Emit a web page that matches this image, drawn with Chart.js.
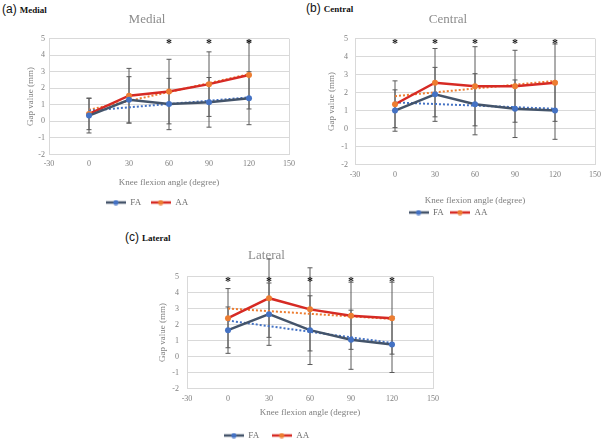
<!DOCTYPE html>
<html>
<head>
<meta charset="utf-8">
<script src="https://cdn.jsdelivr.net/npm/chart.js@4.4.1/dist/chart.umd.min.js"></script>
<style>
  body { margin: 0; background: #fff; width: 607px; height: 440px; position: relative; overflow: hidden; }
  .panel { position: absolute; }
  .tag { position: absolute; font-family: "Liberation Sans", Arial, sans-serif; font-size: 12px; color: #111; white-space: nowrap; }
  .tag b { font-family: "Liberation Serif", serif; font-size: 9px; margin-left: 3px; }
</style>
</head>
<body>
<div class="tag" style="left:2px;top:2px">(a)<b>Medial</b></div>
<div class="tag" style="left:306px;top:1px">(b)<b>Central</b></div>
<div class="tag" style="left:125px;top:230px">(c)<b>Lateral</b></div>

<div class="panel" style="left:0;top:0;width:300px;height:217px"><canvas id="medialChart"></canvas></div>
<div class="panel" style="left:300px;top:0;width:307px;height:227px"><canvas id="centralChart"></canvas></div>
<div class="panel" style="left:100px;top:222px;width:360px;height:228px"><canvas id="lateralChart"></canvas></div>

<script>
// Gap value vs knee flexion angle, FA vs AA

const angles = [0, 30, 60, 90, 120];
const trendAngles = [0, 120];
const starY = 4.85;

// Medial
const medialFA = [0.35, 1.3, 1.05, 1.15, 1.4];
const medialAA = [0.45, 1.55, 1.8, 2.25, 2.8];
const medialFASD = [1.05, 1.4, 1.55, 1.5, 1.6];
const medialAASD = [0.95, 1.65, 1.95, 1.95, 2.05];
const medialFATrend = [0.65, 1.45];
const medialAATrend = [0.7, 2.85];
const medialStars = [60, 90, 120];

// Central
const centralFA = [1.0, 1.9, 1.35, 1.1, 1.0];
const centralAA = [1.35, 2.55, 2.35, 2.35, 2.55];
const centralFASD = [1.15, 1.5, 1.7, 1.6, 1.6];
const centralAASD = [1.3, 1.9, 2.2, 2.0, 2.15];
const centralFATrend = [1.45, 1.1];
const centralAATrend = [1.8, 2.65];
const centralStars = [0, 30, 60, 90, 120];

// Lateral
const lateralFA = [1.65, 2.65, 1.65, 1.05, 0.75];
const lateralAA = [2.4, 3.65, 2.95, 2.55, 2.4];
const lateralFASD = [1.45, 1.95, 2.15, 1.85, 1.75];
const lateralAASD = [1.85, 2.45, 2.6, 2.1, 2.25];
const lateralFATrend = [2.25, 0.85];
const lateralAATrend = [3.0, 2.35];
const lateralStars = [0, 30, 60, 90, 120];

const FA_LINE = '#44546a';
const FA_MARK = '#4472c4';
const AA_LINE = '#d62a24';
const AA_MARK = '#ed7d31';
const SERIF = '"Liberation Serif", "DejaVu Serif", serif';

const toPoints = (xs, ys) => xs.map((x, i) => ({ x: x, y: ys[i] }));

// small "line with marker" legend icon, like the office chart
function legendIcon(lineCol, markCol) {
  const c = document.createElement('canvas');
  c.width = 20; c.height = 6;
  const g = c.getContext('2d');
  g.strokeStyle = lineCol; g.lineWidth = 2.5;
  g.beginPath(); g.moveTo(0, 3); g.lineTo(20, 3); g.stroke();
  g.fillStyle = markCol;
  g.beginPath(); g.arc(10, 3, 2.6, 0, Math.PI * 2); g.fill();
  return c;
}
const icons = { FA: legendIcon(FA_LINE, FA_MARK), AA: legendIcon(AA_LINE, AA_MARK) };

// error bars + significance stars, drawn with the chart scales
const errorBarPlugin = {
  id: 'errorBars',
  beforeDatasetsDraw(chart) {
    const { ctx, scales: { x, y } } = chart;
    const bars = chart.options.plugins.errorBars.sets;
    ctx.save();
    ctx.strokeStyle = '#5a5a5a';
    ctx.lineWidth = 1;
    bars.forEach(set => {
      angles.forEach((a, i) => {
        const px = x.getPixelForValue(a);
        const top = y.getPixelForValue(set.mean[i] + set.sd[i]);
        const bot = y.getPixelForValue(set.mean[i] - set.sd[i]);
        ctx.beginPath();
        ctx.moveTo(px, top); ctx.lineTo(px, bot);
        ctx.moveTo(px - 2.5, top); ctx.lineTo(px + 2.5, top);
        ctx.moveTo(px - 2.5, bot); ctx.lineTo(px + 2.5, bot);
        ctx.stroke();
      });
    });
    ctx.restore();
  },
  afterDatasetsDraw(chart) {
    const { ctx, scales: { x, y } } = chart;
    const stars = chart.options.plugins.errorBars.stars;
    ctx.save();
    ctx.fillStyle = '#111';
    ctx.font = 'bold 12px ' + SERIF;
    ctx.textAlign = 'center';
    ctx.textBaseline = 'middle';
    stars.forEach(a => {
      ctx.fillText('*', x.getPixelForValue(a), y.getPixelForValue(starY) + 3);
    });
    ctx.restore();
  }
};

function makePanel(id, title, fa, aa, faSD, aaSD, faTrend, aaTrend, stars, lay) {
  const gridCol = ctx => (ctx.tick.value === -30 || ctx.tick.value === 150) ? '#d9d9d9' : 'rgba(0,0,0,0)';
  return new Chart(document.getElementById(id), {
    type: 'line',
    data: {
      datasets: [
        { label: 'FA', data: toPoints(angles, fa), borderColor: FA_LINE, backgroundColor: FA_LINE,
          borderWidth: 2.5, pointBackgroundColor: FA_MARK, pointBorderColor: FA_MARK, pointRadius: 3, pointBorderWidth: 0 },
        { label: 'AA', data: toPoints(angles, aa), borderColor: AA_LINE, backgroundColor: AA_LINE,
          borderWidth: 2.5, pointBackgroundColor: AA_MARK, pointBorderColor: AA_MARK, pointRadius: 3, pointBorderWidth: 0 },
        { label: 'FA trend', data: toPoints(trendAngles, faTrend), borderColor: FA_MARK,
          borderWidth: 2, borderDash: [2, 2], pointRadius: 0 },
        { label: 'AA trend', data: toPoints(trendAngles, aaTrend), borderColor: AA_MARK,
          borderWidth: 2, borderDash: [2, 2], pointRadius: 0 }
      ]
    },
    options: {
      responsive: true,
      maintainAspectRatio: false,
      animation: false,
      layout: { padding: { left: 0, right: lay.padRight, top: 0, bottom: 0 } },
      scales: {
        x: {
          type: 'linear', min: -30, max: 150,
          ticks: { stepSize: 30, color: '#7f7f7f', font: { family: SERIF, size: 8 }, padding: lay.xTickPad },
          grid: { color: gridCol, drawTicks: false },
          border: { display: false },
          title: { display: true, text: 'Knee flexion angle (degree)', color: '#7f7f7f',
                   font: { family: SERIF, size: 9 }, padding: { top: 0, bottom: lay.xTitlePadBottom } },
          afterFit: s => { s.height = lay.xHeight; }
        },
        y: {
          min: -2, max: 5,
          ticks: { stepSize: 1, color: '#7f7f7f', font: { family: SERIF, size: 8 }, padding: lay.yTickPad },
          grid: { color: '#d9d9d9', drawTicks: false },
          border: { display: false },
          title: { display: true, text: 'Gap value (mm)', color: '#7f7f7f',
                   font: { family: SERIF, size: 9 }, padding: { top: lay.yTitlePad, bottom: 0 } },
          afterFit: s => { s.width = lay.yWidth; }
        }
      },
      plugins: {
        title: { display: true, text: title, color: '#8c8c8c', font: { family: SERIF, size: 13, weight: 'normal' },
                 padding: { top: lay.titleTop, bottom: lay.titleBottom } },
        legend: {
          position: 'bottom',
          labels: {
            usePointStyle: true,
            pointStyleWidth: 20,
            generateLabels: chart => Chart.defaults.plugins.legend.labels.generateLabels(chart)
              .filter(item => item.text === 'FA' || item.text === 'AA')
              .map(item => Object.assign(item, { pointStyle: icons[item.text] })),
            boxHeight: 6, padding: lay.legendPad, color: '#6f6f6f',
            font: { family: SERIF, size: 9 }
          }
        },
        tooltip: { enabled: false },
        errorBars: {
          sets: [{ mean: fa, sd: faSD }, { mean: aa, sd: aaSD }],
          stars: stars
        }
      }
    },
    plugins: [errorBarPlugin]
  });
}

makePanel('medialChart', 'Medial', medialFA, medialAA, medialFASD, medialAASD, medialFATrend, medialAATrend, medialStars,
  { padRight: 6, xHeight: 34, xTitlePadBottom: 0, xTickPad: 5, yWidth: 49, yTickPad: 4, yTitlePad: 25,
    titleTop: 12, titleBottom: 11, legendPad: 9.5 });

makePanel('centralChart', 'Central', centralFA, centralAA, centralFASD, centralAASD, centralFATrend, centralAATrend, centralStars,
  { padRight: 11, xHeight: 37.4, xTitlePadBottom: -4, xTickPad: 6, yWidth: 55, yTickPad: 7, yTitlePad: 26,
    titleTop: 12, titleBottom: 11, legendPad: 6.1 });

makePanel('lateralChart', 'Lateral', lateralFA, lateralAA, lateralFASD, lateralAASD, lateralFATrend, lateralAATrend, lateralStars,
  { padRight: 27, xHeight: 30, xTitlePadBottom: 0, xTickPad: 6, yWidth: 87, yTickPad: 8, yTitlePad: 57,
    titleTop: 26, titleBottom: 13, legendPad: 12.5 });
</script>
</body>
</html>
